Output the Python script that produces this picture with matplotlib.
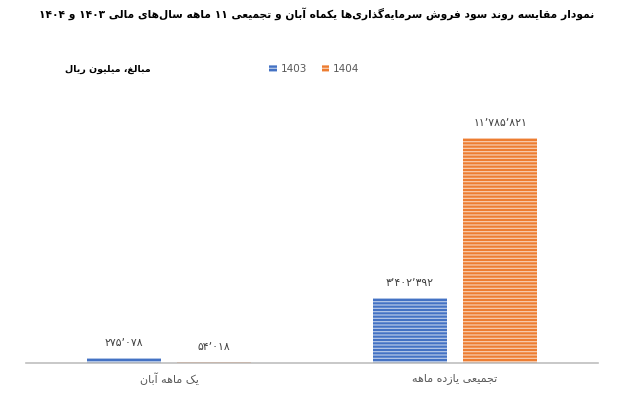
import re
import matplotlib
matplotlib.use('Agg')
import matplotlib.pyplot as plt
import numpy as np

title = 'نمودار مقایسه روند سود فروش سرمایه\u200cگذاری\u200cها یکماه آبان و تجمیعی ۱۱ ماهه سال\u200cهای مالی ۱۴۰۳ و ۱۴۰۴'
unit_label = 'مبالغ، میلیون ریال'
categories = ['یک ماهه آبان', 'تجمیعی یازده ماهه']
years = ['1403', '1404']
values_1403 = [275078, 3402392]
values_1404 = [54018, 11785821]

# isolated, final, initial, medial
FORMS = {
    'ء': (0xFE80, None, None, None),
    'آ': (0xFE81, 0xFE82, None, None),
    'أ': (0xFE83, 0xFE84, None, None),
    'ا': (0xFE8D, 0xFE8E, None, None),
    'ب': (0xFE8F, 0xFE90, 0xFE91, 0xFE92),
    'ة': (0xFE93, 0xFE94, None, None),
    'ت': (0xFE95, 0xFE96, 0xFE97, 0xFE98),
    'ث': (0xFE99, 0xFE9A, 0xFE9B, 0xFE9C),
    'ج': (0xFE9D, 0xFE9E, 0xFE9F, 0xFEA0),
    'ح': (0xFEA1, 0xFEA2, 0xFEA3, 0xFEA4),
    'خ': (0xFEA5, 0xFEA6, 0xFEA7, 0xFEA8),
    'د': (0xFEA9, 0xFEAA, None, None),
    'ذ': (0xFEAB, 0xFEAC, None, None),
    'ر': (0xFEAD, 0xFEAE, None, None),
    'ز': (0xFEAF, 0xFEB0, None, None),
    'س': (0xFEB1, 0xFEB2, 0xFEB3, 0xFEB4),
    'ش': (0xFEB5, 0xFEB6, 0xFEB7, 0xFEB8),
    'ص': (0xFEB9, 0xFEBA, 0xFEBB, 0xFEBC),
    'ض': (0xFEBD, 0xFEBE, 0xFEBF, 0xFEC0),
    'ط': (0xFEC1, 0xFEC2, 0xFEC3, 0xFEC4),
    'ظ': (0xFEC5, 0xFEC6, 0xFEC7, 0xFEC8),
    'ع': (0xFEC9, 0xFECA, 0xFECB, 0xFECC),
    'غ': (0xFECD, 0xFECE, 0xFECF, 0xFED0),
    'ف': (0xFED1, 0xFED2, 0xFED3, 0xFED4),
    'ق': (0xFED5, 0xFED6, 0xFED7, 0xFED8),
    'ل': (0xFEDD, 0xFEDE, 0xFEDF, 0xFEE0),
    'م': (0xFEE1, 0xFEE2, 0xFEE3, 0xFEE4),
    'ن': (0xFEE5, 0xFEE6, 0xFEE7, 0xFEE8),
    'ه': (0xFEE9, 0xFEEA, 0xFEEB, 0xFEEC),
    'و': (0xFEED, 0xFEEE, None, None),
    'پ': (0xFB56, 0xFB57, 0xFB58, 0xFB59),
    'چ': (0xFB7A, 0xFB7B, 0xFB7C, 0xFB7D),
    'ژ': (0xFB8A, 0xFB8B, None, None),
    'ک': (0xFB8E, 0xFB8F, 0xFB90, 0xFB91),
    'گ': (0xFB92, 0xFB93, 0xFB94, 0xFB95),
    'ی': (0xFBFC, 0xFBFD, 0xFBFE, 0xFBFF),
}


def joins_left(c):
    return c in FORMS and FORMS[c][2] is not None


def shape(s):
    out = []
    for i, c in enumerate(s):
        if c not in FORMS:
            if c != '\u200c':
                out.append(c)
            continue
        prev = s[i - 1] if i > 0 else ''
        nxt = s[i + 1] if i + 1 < len(s) else ''
        p = joins_left(prev)
        n = joins_left(c) and nxt in FORMS
        iso, fin, ini, med = FORMS[c]
        if p and n:
            code = med
        elif p:
            code = fin
        elif n:
            code = ini
        else:
            code = iso
        out.append(chr(code))
    return ''.join(out)


def rtl(s):
    rev = shape(s)[::-1]
    return re.sub(r'[0-9\u06f0-\u06f9\u066c]+', lambda m: m.group(0)[::-1], rev)


def fa_num(v):
    digits = str.maketrans('0123456789,', '۰۱۲۳۴۵۶۷۸۹\u066c')
    return f'{v:,}'.translate(digits)


plt.rcParams['font.family'] = ['DejaVu Sans']
plt.rcParams['hatch.linewidth'] = 0.9

fig = plt.figure(figsize=(6.25, 3.98), dpi=100)
ax = fig.add_axes([0.0416, 0.088, 0.9154, 0.671])

x = np.arange(len(categories))
w = 0.26
off = 0.158
blue = '#4472C4'
orange = '#ED7D31'
b1 = ax.bar(x - off, values_1403, w, color=blue, edgecolor='#B4C7E7', linewidth=0, hatch='-----', label=years[0])
b2 = ax.bar(x + off, values_1404, w, color=orange, edgecolor='#F8CBAD', linewidth=0, hatch='-----', label=years[1])

for bars, vals in ((b1, values_1403), (b2, values_1404)):
    for rect, v in zip(bars, vals):
        ax.annotate(fa_num(v), (rect.get_x() + rect.get_width() / 2, rect.get_height()),
                    xytext=(0, 7), textcoords='offset points', ha='center', va='bottom',
                    fontsize=7.8, color='#404040')

ax.set_xlim(-0.5, 1.5)
ax.set_ylim(0, 14000000)
ax.set_xticks(x)
ax.set_xticklabels([rtl(c) for c in categories], fontsize=8, color='#595959')
ax.tick_params(axis='x', length=0, pad=7)
ax.set_yticks([])
for s in ['top', 'right', 'left']:
    ax.spines[s].set_visible(False)
ax.spines['bottom'].set_color('#BFBFBF')
ax.spines['bottom'].set_linewidth(1.2)

fig.text(0.507, 0.967, rtl(title), ha='center', va='center', fontsize=7.7, fontweight='bold', color='black')
fig.text(0.104, 0.826, rtl(unit_label), ha='left', va='center', fontsize=6.8, fontweight='bold', color='black')

leg = fig.legend(handles=[b1, b2], labels=years, loc='center', bbox_to_anchor=(0.503, 0.826), ncol=2,
                 frameon=False, fontsize=7.5, handlelength=0.7, handleheight=0.7, handletextpad=0.4,
                 columnspacing=1.4, labelcolor='#595959')

fig.savefig('out.png', dpi=100)
